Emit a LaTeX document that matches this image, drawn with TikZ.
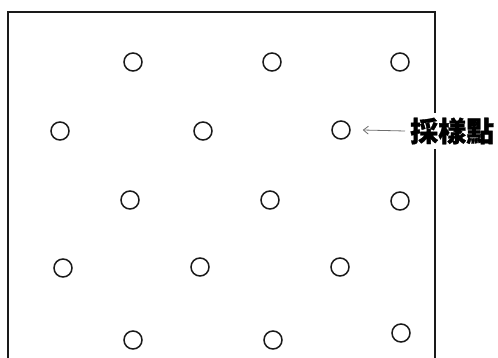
\documentclass[tikz,border=0pt]{standalone}
\usepackage{fontspec}
\usepackage{tikz}
\usetikzlibrary{arrows.meta}
\newfontfamily\cjk[BoldFeatures={FakeBold=1.2}]{Noto Sans CJK TC}
\definecolor{inkblack}{HTML}{1A1A1A}
\definecolor{arrowgray}{HTML}{6E6E6E}
\tikzset{
  sample/.style={circle,draw=inkblack,line width=1.5pt,minimum size=18pt,inner sep=0pt},
  tag/.style={fill=white,inner sep=5pt,font=\cjk\bfseries\fontsize{28}{28}\selectfont}
}

\begin{document}
\begin{tikzpicture}[x=1pt,y=-1pt]
  \useasboundingbox (0,0) rectangle (498,358);
  % plot outline, open at the bottom
  \draw[inkblack,line width=1.6pt] (8,360)--(8,12)--(435,12)--(435,360);
  % sampling points
  \node[sample] (p11) at (133,62) {};
  \node[sample] (p12) at (272,62) {};
  \node[sample] (p13) at (400,62) {};
  \node[sample] (p21) at (60,131) {};
  \node[sample] (p22) at (203,131) {};
  \node[sample] (p23) at (341,130) {};
  \node[sample] (p31) at (130,200) {};
  \node[sample] (p32) at (270,200) {};
  \node[sample] (p33) at (400,201) {};
  \node[sample] (p41) at (63,268) {};
  \node[sample] (p42) at (200,267) {};
  \node[sample] (p43) at (340,267) {};
  \node[sample] (p51) at (133,340) {};
  \node[sample] (p52) at (273,340) {};
  \node[sample] (p53) at (401,333) {};
  % label
  \node[tag,anchor=west] (lbl) at (405,131) {採樣點};
  \draw[->,>={Straight Barb[length=5pt,width=8pt]},arrowgray,line width=0.8pt]
    (lbl.west) -- ([xshift=12pt]p23.east);
\end{tikzpicture}
\end{document}
